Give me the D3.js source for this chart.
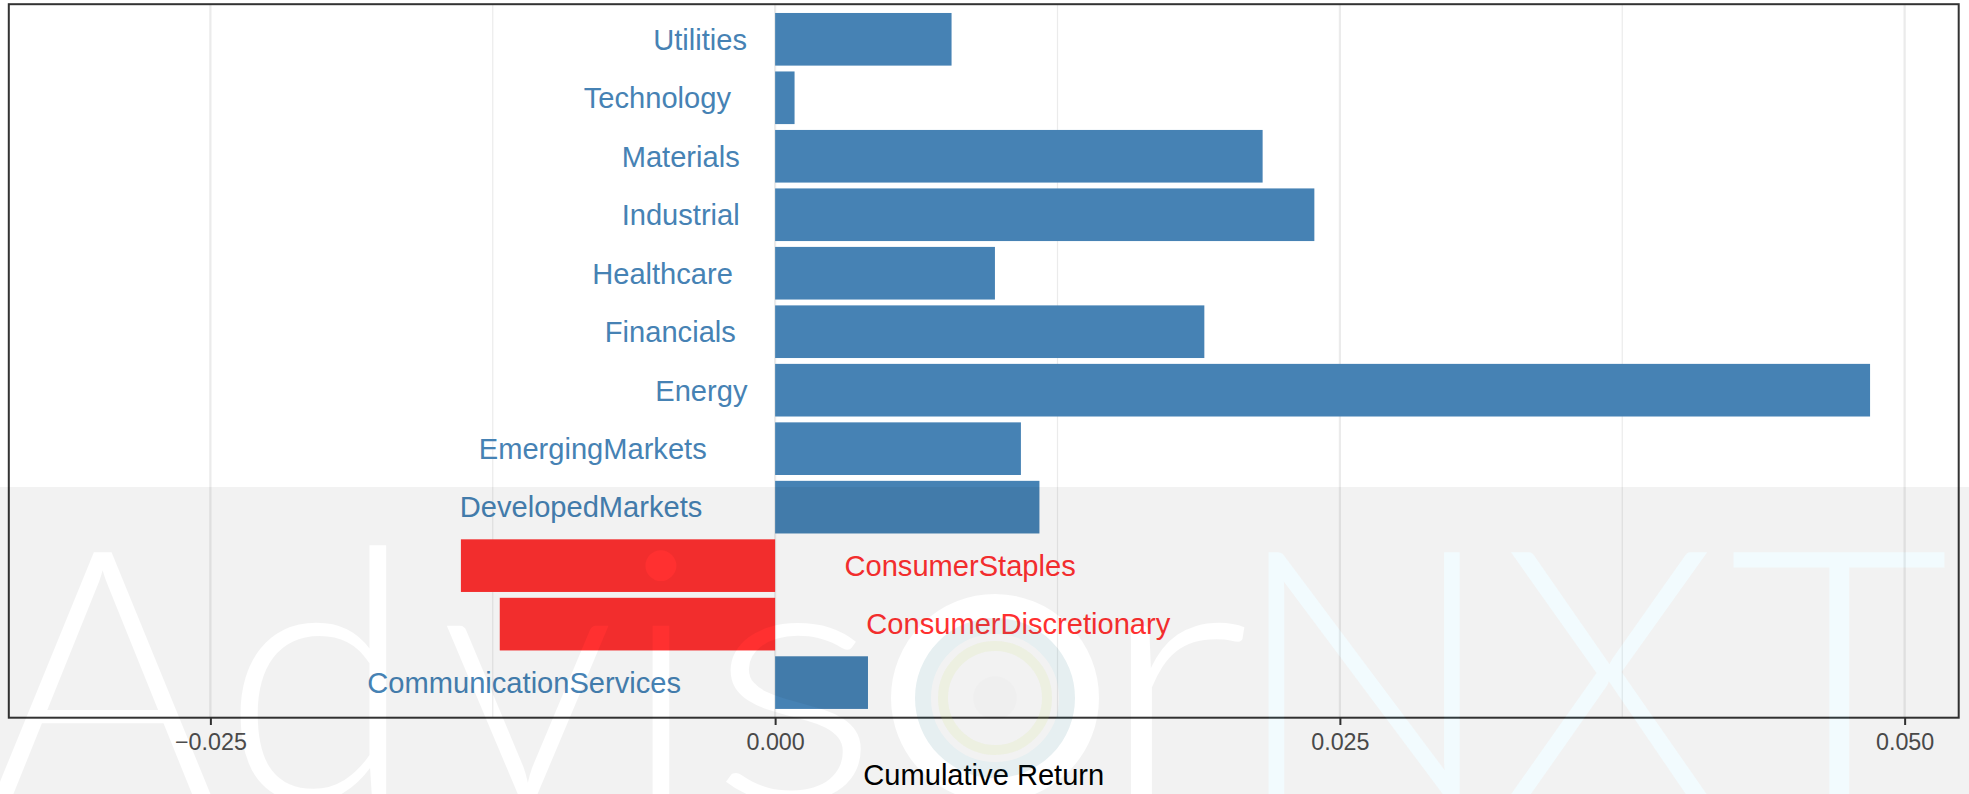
<!DOCTYPE html>
<html>
<head>
<meta charset="utf-8">
<script src="https://cdn.jsdelivr.net/npm/d3@7"></script>
<style>
  html, body { margin: 0; padding: 0; background: #ffffff; }
  svg { display: block; }
</style>
</head>
<body>
<svg id="chart" width="1969" height="794"></svg>
<script>
// ---- data (top to bottom as shown) ----
const categories = ["Utilities", "Technology", "Materials", "Industrial", "Healthcare",
  "Financials", "Energy", "EmergingMarkets", "DevelopedMarkets", "ConsumerStaples",
  "ConsumerDiscretionary", "CommunicationServices"];
const returns = [0.00781, 0.00086, 0.02158, 0.02387, 0.00973, 0.01900, 0.04847,
  0.01088, 0.01170, -0.01391, -0.01219, 0.00411];
const xTicks = [-0.025, 0, 0.025, 0.05];
const xMinorTicks = [-0.0125, 0.0125, 0.0375];
const xLowerLimit = -0.03;
const axisTitle = "Cumulative Return";
const watermarkLetters = ["A", "d", "v", "i", "s", "r"];
const watermarkBrand = ["N", "X", "T"];

const data = categories.map((c, i) => ({ name: c, value: returns[i] }));

// ---- layout ----
const W = 1969, H = 794;
const panel = { left: 8.8, right: 1958.7, top: 4.2, bottom: 717.7 };
const posColor = "#4682B4", negColor = "#FF3030";
const font = "'Liberation Sans', Arial, Helvetica, sans-serif";

const svg = d3.select("#chart");
svg.append("rect").attr("width", W).attr("height", H).attr("fill", "#ffffff");

const lo = xLowerLimit, hi = d3.max(returns);
const pad = (hi - lo) * 0.05;
const x = d3.scaleLinear().domain([lo - pad, hi + pad]).range([panel.left, panel.right]);
const y = d3.scaleBand().domain(categories).range([panel.top, panel.bottom])
  .paddingInner(0.1).paddingOuter(0.15);

// grid
const g = svg.append("g");
g.selectAll("line.minor").data(xMinorTicks).join("line")
  .attr("x1", d => x(d)).attr("x2", d => x(d))
  .attr("y1", panel.top).attr("y2", panel.bottom)
  .attr("stroke", "#ebebeb").attr("stroke-width", 1.2);
g.selectAll("line.major").data(xTicks).join("line")
  .attr("x1", d => x(d)).attr("x2", d => x(d))
  .attr("y1", panel.top).attr("y2", panel.bottom)
  .attr("stroke", "#ebebeb").attr("stroke-width", 2.2);

// bars
g.selectAll("rect.bar").data(data).join("rect")
  .attr("x", d => Math.min(x(0), x(d.value)))
  .attr("width", d => Math.abs(x(d.value) - x(0)))
  .attr("y", d => y(d.name))
  .attr("height", y.bandwidth())
  .attr("fill", d => d.value >= 0 ? posColor : negColor);

// labels (hjust 1.3 for positive, -0.3 for negative)
const labels = g.selectAll("text.lab").data(data).join("text")
  .attr("y", d => y(d.name) + y.bandwidth() / 2)
  .attr("dy", "0.355em")
  .attr("font-family", font)
  .attr("font-size", 29.1)
  .attr("fill", d => d.value >= 0 ? posColor : negColor)
  .text(d => d.name);
labels.each(function(d) {
  const w = this.getComputedTextLength();
  const hj = d.value >= 0 ? 1.3 : -0.3;
  d3.select(this).attr("x", x(0) - hj * w);
});

// panel border
svg.append("rect")
  .attr("x", panel.left).attr("y", panel.top)
  .attr("width", panel.right - panel.left).attr("height", panel.bottom - panel.top)
  .attr("fill", "none").attr("stroke", "#333333").attr("stroke-width", 2);

// x axis
const ax = svg.append("g").attr("transform", `translate(0,${panel.bottom})`)
  .call(d3.axisBottom(x).tickValues(xTicks).tickFormat(d3.format(".3f"))
    .tickSize(7.3).tickPadding(8.8));
ax.select(".domain").remove();
ax.selectAll(".tick line").attr("stroke", "#333333").attr("stroke-width", 2);
ax.selectAll(".tick text").attr("fill", "#4d4d4d").attr("font-family", font).attr("font-size", 23.3);

svg.append("text")
  .attr("x", (panel.left + panel.right) / 2).attr("y", 785)
  .attr("text-anchor", "middle").attr("font-family", font).attr("font-size", 29.1)
  .attr("fill", "#000000").text(axisTitle);

// ---- watermark overlay ----
const wmFont = "Lato, 'Open Sans', Roboto, sans-serif";
const wmSize = 350, wmBase = 800;
const letterX = [-12, 222, 440, 622, 708, 1095];
const letterLen = [null, null, null, null, 172, 155];
const brandX = [1232, 1500, 1728];
const brandLen = [null, null, 222];
const logoC = [995, 698];

function addLetters(sel, letters, xs, lens) {
  letters.forEach((l, i) => {
    const t = sel.append("text").attr("x", xs[i]).attr("y", wmBase).text(l);
    if (lens[i]) t.attr("textLength", lens[i]).attr("lengthAdjust", "spacingAndGlyphs");
  });
}

const defs = svg.append("defs");
const mask = defs.append("mask").attr("id", "wm").attr("maskUnits", "userSpaceOnUse")
  .attr("x", 0).attr("y", 0).attr("width", W).attr("height", H);
mask.append("rect").attr("width", W).attr("height", H).attr("fill", "white");
const mg = mask.append("g").attr("font-family", wmFont).attr("font-weight", 300)
  .attr("font-size", wmSize).attr("fill", "black");
addLetters(mg, watermarkLetters, letterX, letterLen);
addLetters(mg, watermarkBrand, brandX, brandLen);
mask.append("circle").attr("cx", logoC[0]).attr("cy", logoC[1]).attr("r", 92)
  .attr("fill", "none").attr("stroke", "black").attr("stroke-width", 24);

svg.append("rect").attr("x", 0).attr("y", 487).attr("width", W).attr("height", H - 487)
  .attr("fill", "#000000").attr("fill-opacity", 0.051).attr("mask", "url(#wm)");

const brand = svg.append("g").attr("font-family", wmFont).attr("font-weight", 300)
  .attr("font-size", wmSize).attr("fill", "#12bde6").attr("fill-opacity", 0.055);
addLetters(brand, watermarkBrand, brandX, brandLen);

// logo "o"
const logo = svg.append("g");
logo.append("circle").attr("cx", logoC[0]).attr("cy", logoC[1]).attr("r", 72)
  .attr("fill", "none").attr("stroke", "#12bde6").attr("stroke-opacity", 0.05).attr("stroke-width", 16);
logo.append("circle").attr("cx", logoC[0]).attr("cy", logoC[1]).attr("r", 52)
  .attr("fill", "none").attr("stroke", "#c8e650").attr("stroke-opacity", 0.1).attr("stroke-width", 10);
logo.append("circle").attr("cx", logoC[0]).attr("cy", logoC[1]).attr("r", 22)
  .attr("fill", "#000").attr("fill-opacity", 0.012);
</script>
</body>
</html>
